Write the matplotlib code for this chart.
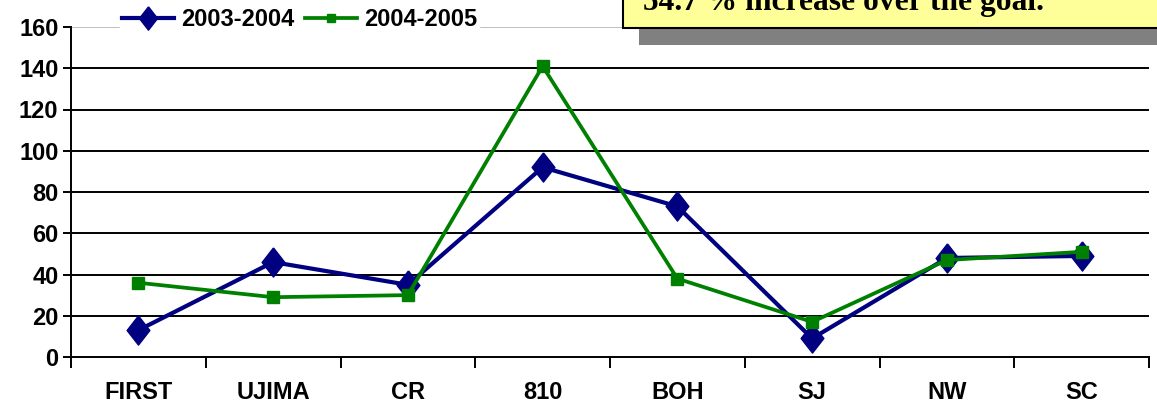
import matplotlib
matplotlib.use("Agg")
import matplotlib.pyplot as plt
from matplotlib.patches import Rectangle

categories = ["FIRST", "UJIMA", "CR", "810", "BOH", "SJ", "NW", "SC"]
s2003 = [13, 46, 35, 92, 73, 9, 48, 49]
s2004 = [36, 29, 30, 141, 38, 17, 47, 51]
yticks = [0, 20, 40, 60, 80, 100, 120, 140, 160]

fam = "Liberation Sans"
FS = 17

fig = plt.figure(figsize=(11.57, 4.16), dpi=100)
ax = fig.add_axes([71/1157, 1-357/416, (1149-71)/1157, (357-27)/416])

diamond = [(0, 1), (0.78, 0), (0, -1), (-0.78, 0), (0, 1)]
x = list(range(len(categories)))
ax.plot(x, s2003, color="#000080", lw=3.0, marker=diamond, ms=21, label="2003-2004", zorder=3)
ax.plot(x, s2004, color="#008000", lw=2.7, marker="s", ms=8, label="2004-2005", zorder=4)

ax.set_xlim(-0.5, len(categories) - 0.5)
ax.set_ylim(0, 160)
ax.set_yticks(yticks)
ax.set_yticklabels([str(v) for v in yticks], fontfamily=fam, fontweight="bold", fontsize=FS)
for v in yticks[1:-1]:
    ax.axhline(v, color="black", lw=1.4, zorder=1)
ax.axhline(160, color="#c0c0c0", lw=1.4, zorder=1)

ax.set_xticks([i + 0.5 for i in range(-1, len(categories))])
ax.set_xticklabels([])
ax.set_xticks(x, minor=True)
ax.set_xticklabels(categories, minor=True, fontfamily=fam, fontweight="bold", fontsize=FS)
ax.tick_params(axis="x", which="minor", length=0, pad=17)
ax.tick_params(axis="x", which="major", length=8, width=1.4, direction="out")
ax.tick_params(axis="y", length=6, width=1.4, direction="out", pad=3)

ax.spines["top"].set_visible(False)
ax.spines["right"].set_visible(False)
ax.spines["left"].set_linewidth(1.4)
ax.spines["bottom"].set_linewidth(1.4)

leg = ax.legend(loc="center left", bbox_to_anchor=(0.045, 1.023), ncol=2, frameon=True,
                prop={"family": fam, "weight": "bold", "size": FS}, handlelength=2.2,
                columnspacing=0.45, handletextpad=0.3, borderpad=0.1, borderaxespad=0,
                fancybox=False, markerscale=0.8)
leg.get_frame().set_edgecolor("white")
leg.get_frame().set_facecolor("white")
leg.get_frame().set_alpha(1)

# annotation box (partially cut off at top, as in the reference)
fig.patches.append(Rectangle((639/1157, 1-45/416), 0.5, 30/416, transform=fig.transFigure,
                             facecolor="#808080", edgecolor="none", zorder=5))
fig.patches.append(Rectangle((623/1157, 1-28/416), 0.5, 40/416, transform=fig.transFigure,
                             facecolor="#ffff99", edgecolor="black", lw=1.5, zorder=6))
fig.text(643/1157, 1-10/416, "54.7 % increase over the goal.", fontfamily="Liberation Serif",
         fontweight="bold", fontsize=22.7, va="baseline", ha="left", zorder=7)

fig.savefig("out.png", dpi=100)
